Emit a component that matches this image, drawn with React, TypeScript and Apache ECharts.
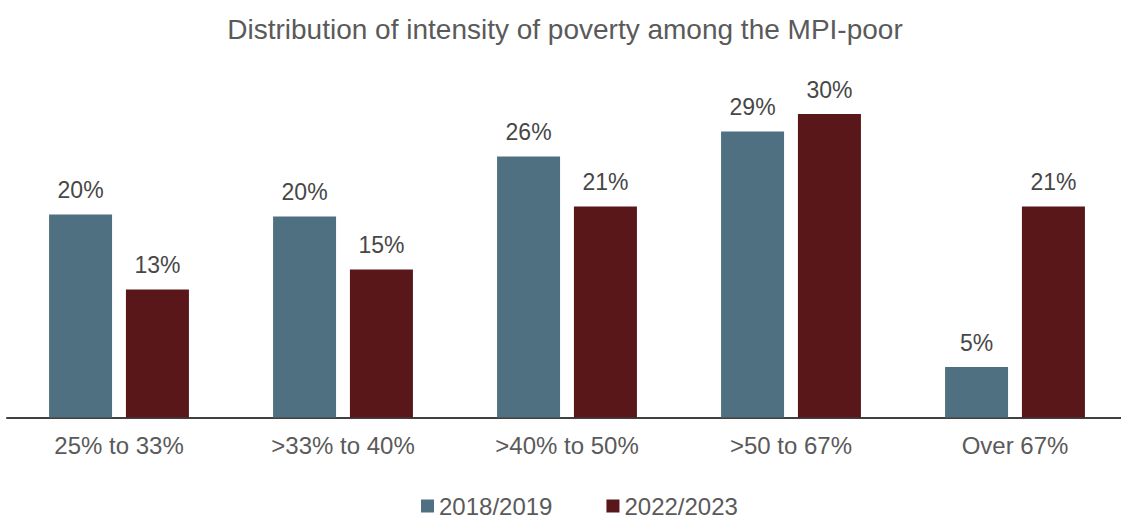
import React, { useEffect, useRef } from "react";
import * as echarts from "echarts";

const categories = ["25% to 33%", ">33% to 40%", ">40% to 50%", ">50 to 67%", "Over 67%"];
const series2018 = [20.3, 20.1, 26.1, 28.6, 5.05];
const series2022 = [12.8, 14.8, 21.1, 30.35, 21.1];
const seriesNames = ["2018/2019", "2022/2023"];
const title = "Distribution of intensity of poverty among the MPI-poor";

const FONT = "'Liberation Sans', Arial, sans-serif";

export default function App() {
  const ref = useRef<HTMLDivElement>(null);
  useEffect(() => {
    if (!ref.current) return;
    const chart = echarts.init(ref.current, undefined, { renderer: "svg" });
    const label = {
      show: true,
      position: "top",
      distance: 13,
      fontFamily: FONT,
      fontSize: 23,
      color: "#474747",
      formatter: (p: any) => Math.round(p.value) + "%",
    };
    chart.setOption({
      animation: false,
      backgroundColor: "#ffffff",
      title: {
        text: title,
        left: 560,
        textAlign: "center",
        top: 10,
        textStyle: { fontFamily: FONT, fontSize: 28, fontWeight: "normal", color: "#5a5a5a" },
      },
      legend: {
        data: seriesNames,
        top: 494,
        left: 421,
        padding: 0,
        icon: "rect",
        itemWidth: 13,
        itemHeight: 13,
        itemGap: 54,
        textStyle: { fontFamily: FONT, fontSize: 24, lineHeight: 20, color: "#5a5a5a" },
      },
      grid: { left: 7, width: 1120, top: 67.5, height: 350 },
      xAxis: {
        type: "category",
        data: categories,
        axisLine: { show: true, lineStyle: { color: "#404040", width: 2 } },
        axisTick: { show: false },
        axisLabel: { margin: 16, fontFamily: FONT, fontSize: 24, color: "#5a5a5a" },
      },
      yAxis: {
        type: "value",
        min: 0,
        max: 35,
        show: false,
        splitLine: { show: false },
      },
      series: [
        {
          name: seriesNames[0],
          type: "bar",
          data: series2018,
          barWidth: 63,
          barGap: "22%",
          itemStyle: { color: "#4F7080" },
          label,
        },
        {
          name: seriesNames[1],
          type: "bar",
          data: series2022,
          barWidth: 63,
          barGap: "22%",
          itemStyle: { color: "#591719" },
          label,
        },
      ],
    });
    return () => chart.dispose();
  }, []);
  return (
    <div style={{ position: "fixed", left: 0, top: 0, width: 1121, height: 518, overflow: "hidden", background: "#fff" }}>
      <div ref={ref} style={{ position: "absolute", left: 0, top: 0, width: 1134, height: 518 }} />
    </div>
  );
}
